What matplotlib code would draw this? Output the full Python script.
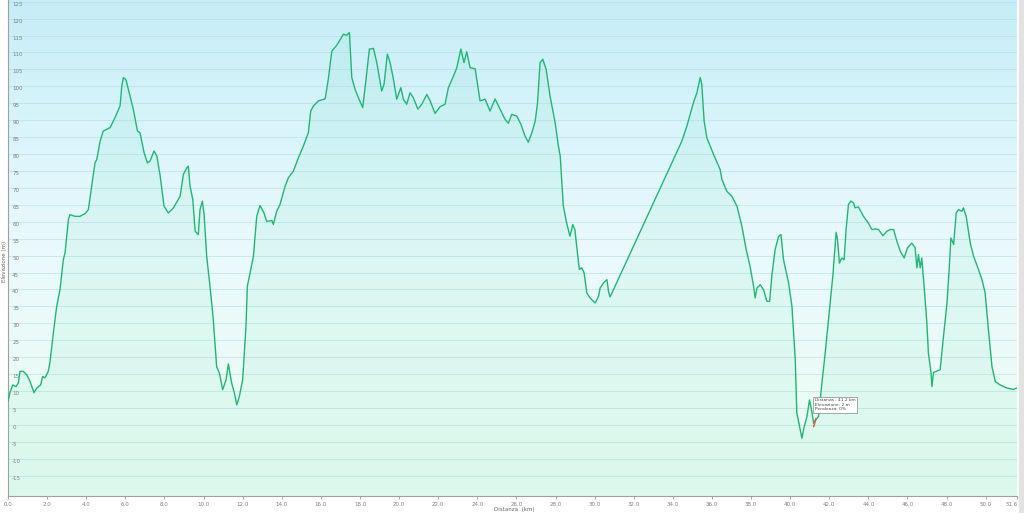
import numpy as np
import matplotlib
matplotlib.use('Agg')
import matplotlib.pyplot as plt
from matplotlib.colors import LinearSegmentedColormap
from matplotlib.transforms import ScaledTranslation

distanza = [0.0, 0.1, 0.24, 0.41, 0.53, 0.61, 0.78, 0.96, 1.13, 1.33, 1.47, 1.67, 1.77, 1.89, 2.06, 2.15,
            2.32, 2.49, 2.66, 2.83, 2.92, 3.09, 3.17, 3.43, 3.68, 3.94, 4.11, 4.28, 4.45, 4.54, 4.71, 4.87,
            5.05, 5.22, 5.47, 5.73, 5.82, 5.90, 6.03, 6.24, 6.41, 6.62, 6.75, 6.96, 7.13, 7.26, 7.47, 7.61,
            7.77, 7.98, 8.2, 8.46, 8.8, 8.97, 9.14, 9.22, 9.31, 9.45, 9.57, 9.73, 9.82, 9.94, 10.03, 10.16,
            10.33, 10.5, 10.67, 10.81, 10.98, 11.15, 11.27, 11.44, 11.58, 11.7, 11.83, 12.0, 12.17, 12.24,
            12.38, 12.55, 12.72, 12.89, 13.09, 13.23, 13.49, 13.57, 13.74, 13.91, 14.17, 14.34, 14.59, 14.85,
            15.1, 15.36, 15.48, 15.62, 15.87, 16.22, 16.38, 16.56, 16.78, 16.95, 17.15, 17.32, 17.46, 17.58,
            17.75, 17.92, 18.14, 18.31, 18.48, 18.69, 18.86, 19.11, 19.23, 19.4, 19.54, 19.71, 19.88, 20.09,
            20.22, 20.39, 20.56, 20.73, 20.96, 21.16, 21.42, 21.59, 21.84, 22.1, 22.35, 22.52, 22.78, 22.95,
            23.16, 23.32, 23.46, 23.63, 23.89, 24.14, 24.4, 24.65, 24.91, 25.17, 25.42, 25.59, 25.76, 26.02,
            26.23, 26.44, 26.61, 26.79, 26.96, 27.08, 27.21, 27.35, 27.52, 27.72, 27.98, 28.15, 28.24, 28.4,
            28.57, 28.74, 28.88, 28.99, 29.12, 29.22, 29.34, 29.46, 29.6, 29.77, 30.03, 30.2, 30.28, 30.45,
            30.63, 30.71, 30.79, 30.96, 34.46, 34.72, 35.05, 35.23, 35.4, 35.48, 35.6, 35.74, 36.08, 36.42,
            36.51, 36.76, 37.02, 37.28, 37.53, 37.75, 37.95, 38.13, 38.21, 38.3, 38.47, 38.64, 38.81, 38.95,
            39.06, 39.23, 39.41, 39.53, 39.66, 39.92, 40.09, 40.26, 40.34, 40.48, 40.6, 40.72, 40.86, 40.99,
            41.12, 41.2, 41.3, 41.45, 41.57, 41.79, 41.96, 42.18, 42.3, 42.35, 42.42, 42.52, 42.64, 42.76,
            42.86, 42.98, 43.1, 43.24, 43.32, 43.49, 43.75, 44.0, 44.18, 44.35, 44.52, 44.74, 44.95, 45.12,
            45.29, 45.46, 45.63, 45.83, 46.0, 46.22, 46.39, 46.48, 46.56, 46.65, 46.73, 46.85, 46.99, 47.07,
            47.2, 47.25, 47.33, 47.67, 47.84, 48.02, 48.13, 48.22, 48.36, 48.49, 48.61, 48.78, 48.86, 49.0,
            49.21, 49.38, 49.63, 49.81, 49.97, 50.14, 50.32, 50.49, 50.74, 51.08, 51.42, 51.6]
elevazione = [7, 9.5, 11.8, 11.3, 12.4, 15.8, 15.8, 14.8, 12.8, 9.5, 10.9, 11.8, 14.3, 13.9, 15.8, 18.7,
              27.2, 35, 40, 48.8, 50.9, 60.7, 62.1, 61.6, 61.6, 62.4, 63.6, 70.5, 77.4, 78.4, 83.8, 86.8,
              87.3, 87.8, 90.7, 94.2, 100.1, 102.6, 102, 97.1, 93.2, 86.8, 86.3, 80.4, 77.4, 77.9, 80.9, 79.4,
              74, 64.6, 62.6, 64.1, 67.5, 74, 75.9, 76.4, 70.5, 66.6, 57.2, 56.2, 63.6, 66.1, 62.1, 49.8,
              40.9, 31.1, 17.2, 15.3, 10.4, 13.3, 18, 12.3, 9.4, 5.9, 8.4, 13.3, 29.1, 40.9,
              44.9, 49.8, 61.6, 64.8, 62.6, 60.1, 60.4, 59.2, 63.1, 65.1, 70.5, 73, 74.9, 78.9,
              82.3, 86.3, 92.7, 94.2, 95.7, 96.3, 102.1, 110.4, 111.9, 113.4, 115.4, 115.1, 115.9, 102.6,
              99.1, 96.6, 93.7, 102.1, 111, 111.2, 107, 98.6, 100.6, 109.5, 107, 102.1, 96.2, 99.6,
              96.2, 94.7, 98.1, 96.6, 93.3, 94.7, 97.6, 95.7, 92, 94, 94.7, 99.6, 103, 105.5,
              111, 107, 110.2, 105.5, 105.2, 95.7, 96.2, 92.7, 96.3, 93.2, 90.2, 89.1, 91.7, 91.2,
              88.8, 85.3, 83.5, 86.3, 89.7, 95.1, 107, 108, 105, 97.1, 89.3, 82.3, 79.4, 64.6,
              59.6, 55.7, 59.2, 57.7, 50.8, 45.9, 46.4, 44.9, 39, 37.5, 36, 38, 40.4, 41.9,
              42.9, 39.4, 37.8, 39.9, 83.8, 88.3, 95.1, 98.1, 102.6, 100.6, 89.7, 84.8, 79.9, 75.4,
              72.5, 69, 67.5, 64.6, 58.7, 51.8, 46.8, 40.9, 37.5, 40.4, 41.4, 39.9, 36.5, 36.5,
              43.9, 51.8, 55.7, 56.2, 48.8, 41.9, 35, 19.2, 3.5, -0.5, -3.9, -0.5, 2.5, 7.4,
              3.5, 0.5, 1.5, 2.5, 9.4, 21.2, 31.1, 43.9, 52.8, 56.9, 54.7, 47.8, 49.3, 48.8,
              57.7, 65.1, 66.1, 65.6, 64.1, 64.4, 61.6, 59.6, 57.7, 57.9, 57.7, 55.9, 57.2, 57.7,
              57.7, 54.2, 51.3, 49.3, 52.3, 53.7, 52.3, 46.4, 50.3, 46.4, 49.3, 40.9, 30.1, 21.2,
              15.5, 11.3, 15.5, 16.3, 26.1, 36, 45.9, 55.2, 53.3, 62.6, 63.6, 63.1, 64.1, 61.6,
              53.7, 49.8, 45.9, 42.9, 39, 28.1, 17.2, 12.8, 11.8, 10.9, 10.5, 10.9]

x_ticks = [0.0, 2.0, 4.0, 6.0, 8.0, 10.0, 12.0, 14.0, 16.0, 18.0, 20.0, 22.0, 24.0, 26.0,
           28.0, 30.0, 32.0, 34.0, 36.0, 38.0, 40.0, 42.0, 44.0, 46.0, 48.0, 50.0, 51.6]
y_ticks = list(range(-15, 130, 5))

# tooltip del punto selezionato
punto_km = 41.2
punto_m = 2
punto_pend = 0

y_min, y_max = -21, 125.5
x_max = 51.6

fig = plt.figure(figsize=(10.24, 5.13), dpi=100)
ax = fig.add_axes([8 / 1024, 17 / 513, 1009 / 1024, 496 / 513])

# sfondo sfumato azzurro -> verde chiaro
cmap = LinearSegmentedColormap.from_list('bg', ['#eafcf3', '#ecfbf7', '#eaf9fc', '#d9f4fb', '#c6edf7'])
grad = np.linspace(0, 1, 256).reshape(-1, 1)
ax.imshow(grad, extent=[0, x_max, y_min, y_max], origin='lower', aspect='auto', cmap=cmap, zorder=0)

for v in y_ticks:
    ax.axhline(v, color='#a8d8dc', lw=0.6, alpha=0.55, zorder=1)

ax.fill_between(distanza, elevazione, y_min, color='#3ed6a0', alpha=0.08, lw=0, zorder=2)
ax.plot(distanza, elevazione, color='#22b673', lw=1.0, zorder=3)

ax.set_xlim(0, x_max)
ax.set_ylim(y_min, y_max)

ax.set_xticks(x_ticks)
ax.set_xticklabels(['%.1f' % t for t in x_ticks])
ax.set_yticks(y_ticks)
ax.set_yticklabels([str(t) for t in y_ticks])
ax.tick_params(axis='x', labelsize=4, colors='#808080', length=2, width=0.5, pad=2)
ax.tick_params(axis='y', labelsize=4, colors='#808080', length=0, pad=-3)
for lab in ax.get_yticklabels():
    lab.set_horizontalalignment('left')
    lab.set_verticalalignment('top')
# ultima etichetta (51.6) spostata un po' a sinistra
ultima = ax.get_xticklabels()[-1]
ultima.set_transform(ultima.get_transform() + ScaledTranslation(-3.5 / 72, 0, fig.dpi_scale_trans))

for s in ['top', 'right']:
    ax.spines[s].set_visible(False)
ax.spines['left'].set_color('#a0a0a0')
ax.spines['bottom'].set_color('#a0a0a0')
ax.spines['left'].set_linewidth(0.8)
ax.spines['bottom'].set_linewidth(0.8)

ax.set_xlabel('Distanza  (km)', fontsize=4, color='#666666', labelpad=0)
ax.xaxis.set_label_coords(0.502, -0.022)
fig.text(0.004, 0.49, 'Elevazione (m)', rotation=90, fontsize=4, color='#666666', va='center', ha='center')

# tooltip
ax.plot([punto_km, punto_km + 0.12], [-0.5, 1.8], color='#e84a3a', lw=1, zorder=4)
testo = 'Distanza : %.1f km\nElevazione: %d m\nPendenza: %d%%' % (punto_km, punto_m, punto_pend)
ax.text(punto_km + 0.05, 7.9, testo, fontsize=3.2, color='#444444', va='top', ha='left', zorder=5,
        linespacing=1.15,
        bbox=dict(boxstyle='square,pad=0.35', fc='white', ec='#888888', lw=0.5))

# bordo grigio a destra
fig.patches.append(plt.Rectangle((1019 / 1024, 0), 5 / 1024, 1, transform=fig.transFigure,
                                 color='#e2e2e2', zorder=-1))

fig.savefig('out.png', dpi=100)
